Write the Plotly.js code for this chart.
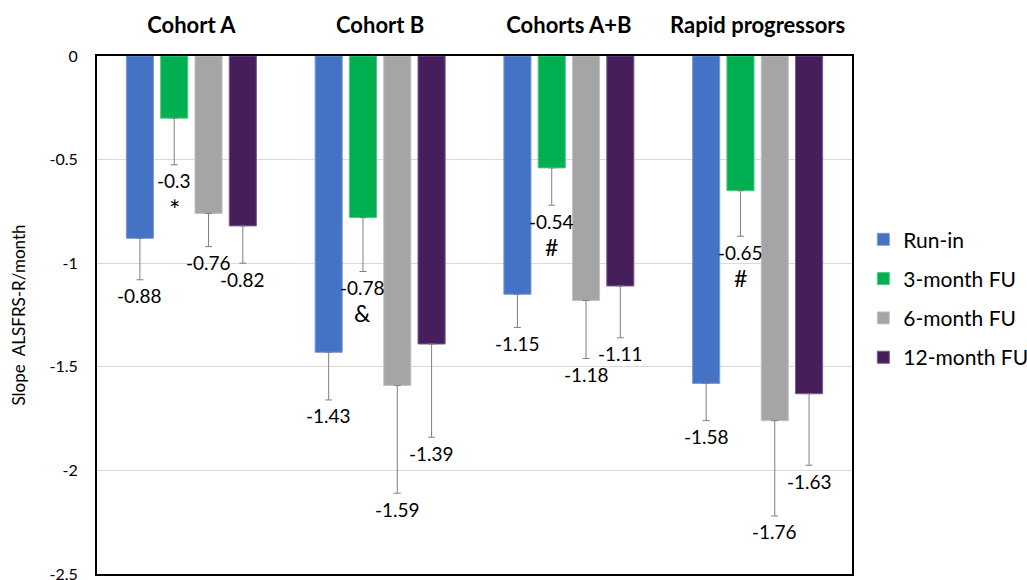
<!DOCTYPE html>
<html>
<head>
<meta charset="utf-8">
<script src="https://cdn.plot.ly/plotly-3.0.1.min.js"></script>
<style>html,body{margin:0;padding:0;background:#fff;}#chart{width:1027px;height:580px;}</style>
</head>
<body>
<div id="chart"></div>
<script>
// ---- data ----
const categories = ['Cohort A', 'Cohort B', 'Cohorts A+B', 'Rapid progressors'];
const seriesNames = ['Run-in', '3-month FU', '6-month FU', '12-month FU'];
const runIn      = [-0.88, -1.43, -1.15, -1.58];
const month3     = [-0.30, -0.78, -0.54, -0.65];
const month6     = [-0.76, -1.59, -1.18, -1.76];
const month12    = [-0.82, -1.39, -1.11, -1.63];
const errRunIn   = [0.20, 0.23, 0.16, 0.18];
const errMonth3  = [0.225, 0.26, 0.18, 0.22];
const errMonth6  = [0.16, 0.52, 0.28, 0.46];
const errMonth12 = [0.18, 0.45, 0.25, 0.345];
const sigMarks3m = ['*', '&', '#', '<br>#'];
const yTicks = [0, -0.5, -1, -1.5, -2, -2.5];
const yTickText = ['0', '-0.5', '-1', '-1.5', '-2', '-2.5'];

// ---- styles ----
const colors = ['#4472C4', '#00B050', '#A5A5A5', '#461E5C'];
const edgeColors = ['#7D9AD6', '#4CC883', '#C4C4C4', '#7A5A8E'];
const FONT = 'Lato, "Open Sans", sans-serif';

const values = [runIn, month3, month6, month12];
const errors = [errRunIn, errMonth3, errMonth6, errMonth12];

const margin = {l: 97, r: 175, t: 56, b: 6, autoexpand: false};
const plotW = 1027 - margin.l - margin.r;
const bargap = 0.273;
const slot = (plotW / categories.length) * (1 - bargap) / seriesNames.length;

const traces = values.map((v, i) => ({
  type: 'bar',
  name: seriesNames[i],
  x: categories,
  y: v,
  legendgroup: 'g' + i,
  marker: {color: colors[i], line: {color: edgeColors[i], width: 1}},
  error_y: {type: 'data', symmetric: false, array: v.map(() => 0), arrayminus: errors[i],
            color: '#7F7F7F', thickness: 1, width: 3.5},
  hoverinfo: 'x+y+name'
}));

const annotations = [];
values.forEach((v, i) => {
  v.forEach((val, j) => {
    annotations.push({
      x: categories[j], y: val - errors[i][j], xref: 'x', yref: 'y',
      xshift: (i - 1.5) * slot, yshift: -16,
      text: String(val), showarrow: false, yanchor: 'middle', xanchor: 'center',
      font: {family: FONT, size: 19, color: '#000'}
    });
  });
});
sigMarks3m.forEach((m, j) => {
  annotations.push({
    x: categories[j], y: month3[j] - errMonth3[j], xref: 'x', yref: 'y',
    xshift: (1 - 1.5) * slot, yshift: -26,
    text: m, showarrow: false, yanchor: 'top', xanchor: 'center',
    font: {family: FONT, size: m === '*' ? 27 : 23, color: '#000'}
  });
});

const layout = {
  width: 1027, height: 580,
  margin: margin,
  paper_bgcolor: '#fff', plot_bgcolor: '#fff',
  font: {family: FONT, color: '#000'},
  barmode: 'group', bargap: bargap, bargroupgap: 0.21,
  showlegend: true,
  legend: {x: 1.015, xanchor: 'left', y: 0.685, yanchor: 'top',
           font: {family: FONT, size: 21, color: '#000'},
           tracegroupgap: 9, itemclick: false},
  xaxis: {
    type: 'category', side: 'top', showgrid: false, zeroline: false,
    showline: true, mirror: true, linecolor: '#000', linewidth: 2,
    ticks: '', ticklabelstandoff: 12,
    tickfont: {family: FONT, size: 22, color: '#000', weight: 'bold'}
  },
  yaxis: {
    range: [-2.5, 0], tickvals: yTicks, ticktext: yTickText,
    showgrid: true, gridcolor: '#D9D9D9', gridwidth: 1, zeroline: false,
    showline: true, mirror: true, linecolor: '#000', linewidth: 2,
    ticks: '', ticklabelstandoff: 14, ticklabeloverflow: 'allow',
    tickfont: {family: FONT, size: 16, color: '#000'},
    title: {text: 'Slope  ALSFRS-R/month', standoff: 20, font: {family: FONT, size: 17, color: '#000'}}
  },
  annotations: annotations
};

Plotly.newPlot('chart', traces, layout, {displayModeBar: false, staticPlot: true});
</script>
</body>
</html>
